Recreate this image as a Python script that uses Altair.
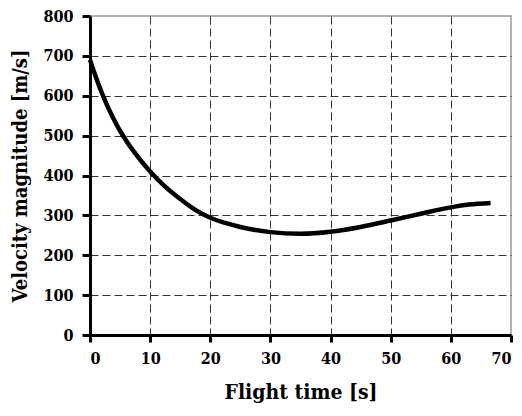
import altair as alt
import pandas as pd

time_s = [0, 1, 2, 3, 4, 5, 6, 7, 8, 10, 12.5, 15, 17.5, 20, 22.5, 25, 30, 35, 40, 45, 50, 55, 60, 63, 66.6]
velocity = [690, 646, 606, 571, 540, 512, 488, 466, 446, 410, 372, 341, 314, 294, 281, 271, 258, 254, 259, 271, 287, 304, 320, 327, 331]
x_ticks = [0, 10, 20, 30, 40, 50, 60, 70]
y_ticks = [0, 100, 200, 300, 400, 500, 600, 700, 800]

df = pd.DataFrame({"t": time_s, "v": velocity})

font = "DejaVu Serif Condensed, DejaVu Serif, serif"

chart = alt.Chart(df).mark_line(color="black", strokeWidth=4.5, interpolate="monotone").encode(
    x=alt.X("t:Q", title="Flight time [s]",
            scale=alt.Scale(domain=[0, 70], nice=False, zero=False),
            axis=alt.Axis(values=x_ticks, tickSize=7, tickWidth=3, tickColor="black",
                          domainColor="black", domainWidth=3, labelPadding=8,
                          labelFont=font, labelFontSize=16, labelFontWeight="bold", labelColor="black",
                          titleFont=font, titleFontSize=21, titleFontWeight="bold", titleColor="black",
                          titlePadding=15,
                          gridDash=[8, 4], gridColor={"condition": {"test": "datum.value >= 70", "value": "transparent"}, "value": "#333333"},
                          gridWidth=1)),
    y=alt.Y("v:Q", title="Velocity magnitude [m/s]",
            scale=alt.Scale(domain=[0, 800], nice=False),
            axis=alt.Axis(values=y_ticks, tickSize=8, tickWidth=3, tickColor="black",
                          domainColor="black", domainWidth=3, labelPadding=9,
                          labelFont=font, labelFontSize=16, labelFontWeight="bold", labelColor="black",
                          titleFont=font, titleFontSize=20, titleFontWeight="bold", titleColor="black",
                          titlePadding=12,
                          gridDash=[8, 4], gridColor={"condition": {"test": "datum.value >= 800", "value": "transparent"}, "value": "#333333"},
                          gridWidth=1)),
).properties(
    width=421, height=319,
    autosize=alt.AutoSizeParams(type="none"),
    padding={"left": 82, "top": 8, "right": 3, "bottom": 82},
).configure_view(stroke="#999999", strokeWidth=1.5)

chart.save("out.html", embed_options={"renderer": "svg", "actions": False})
